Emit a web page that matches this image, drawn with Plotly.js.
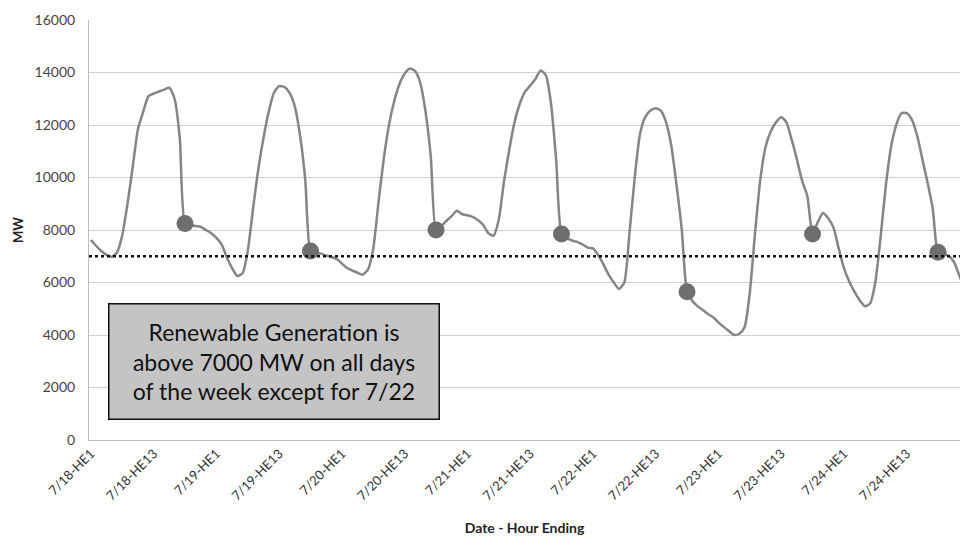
<!DOCTYPE html>
<html>
<head>
<meta charset="utf-8">
<script src="https://cdn.plot.ly/plotly-3.0.1.min.js"></script>
<style>
  html, body { margin: 0; padding: 0; background: #ffffff; }
  #chart { width: 960px; height: 540px; }
</style>
</head>
<body>
<div id="chart"></div>
<script>
// Hourly renewable generation (MW), one array per day, HE1..HE24
const days = ['7/18', '7/19', '7/20', '7/21', '7/22', '7/23', '7/24'];

const mw_0718 = [7620, 7400, 7200, 7050, 6980, 7150, 7800, 9000, 10400, 11850, 12500, 13100,
                 13200, 13270, 13350, 13420, 13000, 11500, 8250, 8200, 8150, 8120, 8000, 7880];
const mw_0719 = [7700, 7450, 6950, 6550, 6250, 6350, 7200, 8800, 10300, 11500, 12500, 13230,
                 13480, 13450, 13220, 12700, 11600, 9900, 7200, 7130, 7100, 7030, 6970, 6900];
const mw_0720 = [6720, 6550, 6450, 6370, 6300, 6500, 7300, 9050, 10700, 12000, 12900, 13550,
                 13950, 14150, 14050, 13600, 12500, 10800, 8000, 8150, 8350, 8530, 8730, 8600];
const mw_0721 = [8560, 8500, 8380, 8200, 7880, 7780, 8400, 9850, 11050, 12100, 12800, 13260,
                 13500, 13750, 14080, 13900, 12800, 10600, 7850, 7700, 7600, 7550, 7450, 7330];
const mw_0722 = [7300, 7050, 6700, 6300, 6000, 5750, 6000, 7900, 10000, 11650, 12300, 12550,
                 12640, 12550, 12100, 11200, 9700, 8000, 5650, 5300, 5100, 4950, 4800, 4680];
const mw_0723 = [4480, 4310, 4150, 4000, 4050, 4300, 5600, 7870, 9900, 11150, 11750, 12100,
                 12300, 12100, 11450, 10700, 9880, 9300, 7850, 8300, 8650, 8450, 8100, 7300];
const mw_0724 = [6550, 6050, 5650, 5330, 5100, 5200, 6000, 7700, 9650, 11150, 12000, 12450,
                 12450, 12200, 11600, 10700, 9800, 8800, 7150, 7100, 7020, 6800, 6300, 5800];

const dailySeries = [mw_0718, mw_0719, mw_0720, mw_0721, mw_0722, mw_0723, mw_0724];
const hourLabels = Array.from({length: 24}, (_, h) => 'HE' + (h + 1));
const labeledHours = ['HE1', 'HE13'];   // hours shown on the category axis
const markerHour = 'HE19';               // hour highlighted each day
const threshold = 7000;                  // MW reference level

// Category axis: "7/18-HE1" ... "7/24-HE24"
const categories = [];
const values = [];
days.forEach((d, di) => {
  hourLabels.forEach((h, hi) => {
    categories.push(d + '-' + h);
    values.push(dailySeries[di][hi]);
  });
});

const tickCats = categories.filter(c => labeledHours.includes(c.split('-')[1]));
const markX = days.map(d => d + '-' + markerHour);
const markY = markX.map(c => values[categories.indexOf(c)]);

const lineTrace = {
  x: categories, y: values,
  type: 'scatter', mode: 'lines',
  line: {color: '#858585', width: 2.5, shape: 'spline', smoothing: 0.6},
  hoverinfo: 'x+y', showlegend: false
};
const markTrace = {
  x: markX, y: markY,
  type: 'scatter', mode: 'markers',
  marker: {color: '#6e6e6e', size: 17, line: {width: 0}},
  hoverinfo: 'x+y', showlegend: false
};

const fontFam = 'Lato, "Open Sans", "Liberation Sans", sans-serif';

const layout = {
  width: 960, height: 540,
  margin: {l: 89, r: 0, t: 20, b: 100},
  paper_bgcolor: '#ffffff', plot_bgcolor: '#ffffff',
  font: {family: fontFam, color: '#333333', size: 12},
  xaxis: {
    type: 'category',
    range: [-0.36, 166.2],
    tickmode: 'array', tickvals: tickCats, ticktext: tickCats,
    tickangle: -45,
    tickfont: {size: 13, color: '#333333'},
    showgrid: false, zeroline: false,
    showline: true, linecolor: '#bdbdbd', linewidth: 1,
    ticks: '',
    title: {text: 'Date - Hour Ending', font: {size: 14, color: '#222222', family: fontFam, weight: 'bold'}, standoff: 20},
    automargin: false
  },
  yaxis: {
    range: [0, 16000],
    tickmode: 'linear', tick0: 0, dtick: 2000,
    tickformat: 'd',
    tickfont: {size: 14, color: '#444444'},
    showgrid: true, gridcolor: '#cfcfcf', gridwidth: 1,
    zeroline: false,
    showline: true, linecolor: '#bdbdbd', linewidth: 1,
    ticks: '', ticklabelstandoff: 10,
    title: {text: 'MW', font: {size: 13, color: '#222222', family: fontFam, weight: 'bold'}, standoff: 8},
    automargin: false
  },
  shapes: [{
    type: 'line', xref: 'paper', yref: 'y',
    x0: 0, x1: 1, y0: threshold, y1: threshold,
    line: {color: '#111111', width: 2.6, dash: 'dot'},
    layer: 'above'
  }],
  annotations: [{
    xref: 'paper', yref: 'paper',
    x: 0.2124, y: 0.187, xanchor: 'center', yanchor: 'middle',
    text: 'Renewable Generation is<br>above 7000 MW on all days<br>of the week except for 7/22',
    showarrow: false,
    align: 'center',
    font: {family: fontFam, size: 23, color: '#111111'},
    bgcolor: '#c4c4c4', bordercolor: '#111111', borderwidth: 1.5, borderpad: 0,
    width: 329, height: 114
  }]
};

Plotly.newPlot('chart', [lineTrace, markTrace], layout, {staticPlot: true, displayModeBar: false});
</script>
</body>
</html>
